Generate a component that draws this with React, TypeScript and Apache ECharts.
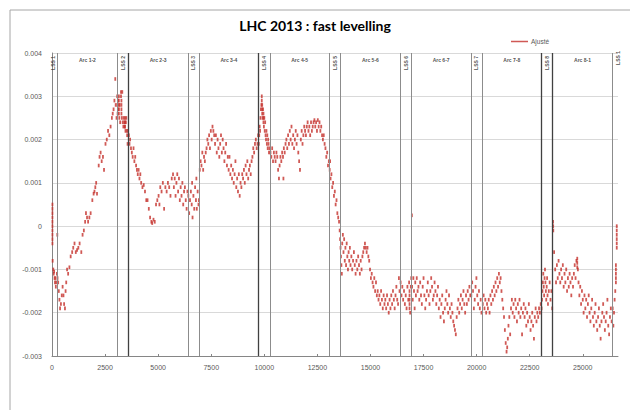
import React, { useEffect, useRef } from "react";
import * as echarts from "echarts";

// Positions along the ring (m) and vertical offsets (m)
const lss1Start = [[20,0.0005],[20,0.0004],[20,0.0003],[20,0.0002],[20,0.0001],[20,0],[20,-0.0001],[20,-0.0002],[20,-0.0003],[20,-0.0004],[30,-0.0008],[60,-0.001],[80,-0.0011],[100,-0.00105],[120,-0.0012],[140,-0.0013],[160,-0.0012],[180,-0.0014],[200,-0.0013],[230,-0.0011],[250,-0.0002],[260,-0.0012]];
const arc12 = [[290,-0.0013],[320,-0.0015],[350,-0.0017],[380,-0.0019],[420,-0.0018],[460,-0.0016],[500,-0.0014],[540,-0.0016],[570,-0.0018],[610,-0.0019],[640,-0.0015],[670,-0.0013],[710,-0.001],[760,-0.0011],[820,-0.00095],[880,-0.0007],[950,-0.0006],[1000,-0.0005],[1060,-0.0004],[1120,-0.0006],[1180,-0.00055],[1240,-0.0005],[1300,-0.0004],[1380,-0.0006],[1440,-0.0002],[1500,-0.0001],[1560,0.0001],[1600,0.0003],[1650,0.0002],[1700,0.0001],[1760,0.0002],[1820,0.0003],[1900,0.0006],[1960,0.00075],[2000,0.0008],[2040,0.0009],[2080,0.001],[2120,0.00075],[2200,0.0014],[2240,0.0016],[2290,0.0017],[2340,0.0015],[2400,0.0016],[2450,0.0013],[2520,0.0019],[2580,0.002],[2640,0.0022],[2700,0.0021],[2760,0.0023],[2820,0.0025],[2860,0.0026],[2900,0.0027],[2940,0.0029],[2980,0.0034],[3000,0.0028],[3040,0.0025]];
const lss2 = [[3070,0.003],[3080,0.0028],[3090,0.0026],[3110,0.0029],[3130,0.0027],[3150,0.003],[3150,0.0029],[3150,0.0028],[3150,0.0027],[3150,0.0026],[3170,0.0025],[3190,0.0028],[3210,0.0024],[3250,0.0031],[3250,0.003],[3270,0.0029],[3270,0.0028],[3270,0.0027],[3270,0.0026],[3290,0.0025],[3310,0.0031],[3330,0.0024],[3360,0.0023],[3380,0.0025],[3400,0.0024],[3420,0.0023],[3440,0.0025],[3440,0.0024],[3440,0.0023],[3460,0.0022],[3480,0.0024],[3500,0.0025],[3520,0.0022],[3540,0.0021],[3560,0.0019],[3580,0.0022]];
const arc23 = [[3620,0.0021],[3650,0.0019],[3680,0.002],[3720,0.0018],[3760,0.0017],[3800,0.0016],[3840,0.0018],[3880,0.0015],[3920,0.0016],[3960,0.0014],[4000,0.0013],[4040,0.0012],[4080,0.0013],[4120,0.0011],[4160,0.0012],[4200,0.001],[4260,0.0009],[4320,0.00095],[4380,0.0008],[4440,0.0006],[4500,0.0006],[4560,0.0004],[4620,0.0002],[4680,0.0001],[4720,0.00007],[4780,0.00015],[4840,0.0001],[4900,0.0005],[4960,0.0006],[5020,0.0007],[5060,0.0005],[5100,0.0009],[5160,0.0008],[5220,0.001],[5280,0.0004],[5340,0.0009],[5400,0.0008],[5460,0.001],[5520,0.0009],[5580,0.0007],[5640,0.0011],[5700,0.0012],[5740,0.0009],[5780,0.0011],[5820,0.0007],[5860,0.001],[5900,0.0012],[5940,0.0008],[5980,0.0011],[6020,0.0006],[6060,0.0009],[6100,0.0007],[6140,0.001],[6180,0.0005],[6220,0.0008],[6260,0.0009],[6300,0.0006],[6340,0.0004],[6380,0.0008]];
const lss3 = [[6420,0.0007],[6460,0.0003],[6500,0.0006],[6540,0.0008],[6580,0.0005],[6600,0.001],[6620,0.0002],[6660,0.0007],[6700,0.0004],[6740,0.0009],[6780,0.0006],[6800,0.0011],[6820,0.0004],[6860,0.0008],[6900,0.0005],[6920,0.0006]];
const arc34 = [[6960,0.0013],[7000,0.0015],[7040,0.0014],[7080,0.0017],[7120,0.0013],[7160,0.0016],[7200,0.0015],[7240,0.0017],[7280,0.0018],[7320,0.002],[7360,0.0019],[7400,0.0021],[7440,0.0018],[7480,0.0022],[7520,0.002],[7560,0.0023],[7600,0.0022],[7640,0.0021],[7680,0.0019],[7720,0.0021],[7760,0.0017],[7800,0.002],[7840,0.0018],[7880,0.0016],[7920,0.0019],[7960,0.0021],[8000,0.0017],[8040,0.002],[8080,0.0018],[8120,0.0015],[8160,0.0017],[8200,0.0019],[8240,0.0014],[8280,0.0016],[8320,0.0013],[8360,0.0016],[8400,0.0012],[8440,0.0014],[8480,0.0011],[8520,0.0013],[8560,0.001],[8600,0.0012],[8640,0.0015],[8680,0.0009],[8720,0.0011],[8760,0.0008],[8800,0.0012],[8840,0.0007],[8880,0.001],[8920,0.0009],[8960,0.0012],[9000,0.0011],[9040,0.0013],[9080,0.001],[9120,0.0014],[9160,0.0012],[9200,0.0015],[9240,0.0011],[9280,0.0013],[9320,0.0014],[9360,0.0012],[9400,0.0015],[9440,0.0016],[9480,0.0018],[9520,0.0017],[9560,0.0019],[9600,0.002],[9640,0.0018],[9680,0.0019],[9710,0.0021]];
const lss4 = [[9740,0.0019],[9760,0.0021],[9780,0.0023],[9800,0.0022],[9820,0.0025],[9840,0.0027],[9860,0.0028],[9880,0.003],[9880,0.0029],[9900,0.0028],[9900,0.0027],[9900,0.0026],[9920,0.0025],[9940,0.0027],[9960,0.0026],[9960,0.0025],[9960,0.0024],[9980,0.0023],[10000,0.0025],[10020,0.0022],[10040,0.0024],[10060,0.0021],[10080,0.002],[10100,0.0022],[10120,0.0019],[10140,0.0021],[10160,0.0018],[10180,0.002],[10200,0.0019],[10220,0.0017],[10240,0.0018]];
const arc45 = [[10290,0.0017],[10330,0.0016],[10370,0.0018],[10410,0.0015],[10450,0.0017],[10490,0.0016],[10530,0.0015],[10570,0.0017],[10610,0.0016],[10650,0.0013],[10690,0.0011],[10720,0.0014],[10760,0.0016],[10800,0.0015],[10840,0.0017],[10880,0.0016],[10900,0.0011],[10920,0.0018],[10960,0.0017],[11000,0.0019],[11040,0.002],[11080,0.0018],[11120,0.0021],[11160,0.0019],[11200,0.0022],[11240,0.002],[11280,0.0023],[11320,0.0019],[11360,0.0021],[11400,0.0018],[11440,0.002],[11480,0.0022],[11520,0.0019],[11560,0.0021],[11600,0.0017],[11640,0.0015],[11680,0.0013],[11720,0.002],[11760,0.0022],[11800,0.0019],[11840,0.0021],[11880,0.0023],[11920,0.0022],[11960,0.0021],[12000,0.0023],[12040,0.0024],[12080,0.0022],[12120,0.0023],[12160,0.0021],[12200,0.0024],[12240,0.0022],[12280,0.0023],[12320,0.0024],[12360,0.00245],[12400,0.0023],[12440,0.0024],[12480,0.0022],[12520,0.00245],[12560,0.0023],[12600,0.0024],[12640,0.0022],[12680,0.0023],[12720,0.0021],[12760,0.002],[12800,0.0021],[12840,0.0019],[12880,0.0018],[12920,0.0016],[12960,0.0017],[13000,0.0014],[13040,0.0015]];
const lss5 = [[13080,0.0013],[13100,0.0015],[13120,0.0011],[13160,0.0012],[13200,0.0009],[13240,0.001],[13280,0.0007],[13320,0.0008],[13360,0.0005],[13400,0.0006],[13440,0.0003],[13480,0.0002],[13520,0.0001],[13550,-0.0001],[13570,-0.0003],[13590,-0.0005]];
const arc56 = [[13610,-0.0007],[13630,-0.0009],[13650,-0.0011],[13670,-0.0004],[13700,-0.0002],[13730,-0.0006],[13760,-0.0003],[13790,-0.0008],[13820,-0.0005],[13850,-0.0009],[13880,-0.0004],[13910,-0.0007],[13940,-0.001],[13970,-0.0006],[14000,-0.0008],[14030,-0.0005],[14060,-0.0009],[14100,-0.0007],[14140,-0.001],[14180,-0.0008],[14220,-0.0006],[14260,-0.0009],[14300,-0.0011],[14340,-0.0008],[14380,-0.001],[14420,-0.0007],[14460,-0.0009],[14500,-0.0011],[14540,-0.0008],[14580,-0.001],[14620,-0.0007],[14660,-0.0006],[14700,-0.0005],[14740,-0.0004],[14780,-0.0005],[14820,-0.0006],[14860,-0.0005],[14900,-0.0007],[14940,-0.0008],[14980,-0.001],[15020,-0.0012],[15060,-0.0011],[15100,-0.0013],[15140,-0.0014],[15180,-0.0012],[15220,-0.0015],[15260,-0.0013],[15300,-0.0016],[15340,-0.0015],[15380,-0.0017],[15420,-0.0016],[15460,-0.0018],[15500,-0.0015],[15540,-0.0017],[15580,-0.0019],[15620,-0.0016],[15660,-0.0018],[15700,-0.0017],[15740,-0.0019],[15780,-0.0016],[15820,-0.0018],[15860,-0.002],[15900,-0.0017],[15940,-0.0019],[15980,-0.0016],[16020,-0.0018],[16060,-0.0015],[16100,-0.0017],[16140,-0.0019],[16180,-0.0016],[16220,-0.0014],[16260,-0.0017],[16300,-0.0018],[16340,-0.0012],[16370,-0.0015]];
const lss6 = [[16420,-0.0013],[16460,-0.0016],[16500,-0.0014],[16540,-0.0017],[16580,-0.0015],[16620,-0.0018],[16660,-0.0016],[16700,-0.0019],[16740,-0.0014],[16780,-0.0017],[16820,-0.0013],[16840,-0.0015],[16840,-0.0016],[16840,-0.0017],[16840,-0.0018],[16840,-0.0019],[16870,-0.002],[16900,-0.0014],[16920,-0.0012]];
const arc67 = [[16950,0.00025],[16960,-0.0014],[16990,-0.0017],[17020,-0.0012],[17050,-0.0015],[17080,-0.0019],[17110,-0.0013],[17140,-0.0016],[17180,-0.0012],[17220,-0.0015],[17260,-0.0014],[17300,-0.0017],[17340,-0.0013],[17380,-0.0016],[17420,-0.0018],[17460,-0.0014],[17500,-0.0012],[17540,-0.0016],[17580,-0.0019],[17620,-0.0017],[17660,-0.0015],[17700,-0.0013],[17740,-0.0016],[17780,-0.0018],[17820,-0.0015],[17860,-0.0012],[17900,-0.0014],[17940,-0.0017],[17980,-0.0016],[18020,-0.0013],[18060,-0.0015],[18100,-0.0018],[18140,-0.0016],[18180,-0.0014],[18220,-0.0019],[18260,-0.0017],[18300,-0.0021],[18340,-0.0018],[18380,-0.0016],[18420,-0.002],[18460,-0.0022],[18500,-0.0019],[18540,-0.0017],[18580,-0.0015],[18620,-0.0018],[18660,-0.002],[18700,-0.0016],[18740,-0.0019],[18780,-0.0021],[18820,-0.0018],[18860,-0.002],[18900,-0.0022],[18940,-0.0023],[18980,-0.0024],[19020,-0.0025],[19060,-0.0021],[19100,-0.0019],[19140,-0.0017],[19180,-0.002],[19220,-0.0018],[19260,-0.0016],[19300,-0.0019],[19340,-0.0017],[19380,-0.0015],[19420,-0.0018],[19460,-0.002],[19500,-0.0016],[19540,-0.0018],[19580,-0.0015],[19620,-0.0017],[19660,-0.0014],[19700,-0.0016]];
const lss7 = [[19750,-0.0016],[19790,-0.0013],[19830,-0.0015],[19870,-0.0019],[19910,-0.0017],[19950,-0.0014],[19990,-0.0012],[20030,-0.0016],[20070,-0.0018],[20110,-0.0015],[20150,-0.0019],[20190,-0.0017],[20230,-0.002]];
const arc78 = [[20290,-0.0018],[20330,-0.0016],[20370,-0.0019],[20410,-0.0017],[20450,-0.002],[20490,-0.0018],[20530,-0.0019],[20570,-0.0017],[20610,-0.002],[20650,-0.0016],[20690,-0.0018],[20730,-0.0015],[20770,-0.0017],[20810,-0.0014],[20850,-0.0016],[20890,-0.0013],[20930,-0.0015],[20970,-0.0012],[21010,-0.0014],[21050,-0.0011],[21090,-0.0013],[21130,-0.0012],[21170,-0.0015],[21210,-0.0017],[21250,-0.0019],[21290,-0.0021],[21330,-0.0024],[21370,-0.0027],[21410,-0.0029],[21440,-0.0028],[21470,-0.0026],[21500,-0.0023],[21540,-0.0021],[21580,-0.0025],[21620,-0.0019],[21660,-0.0017],[21700,-0.002],[21740,-0.0018],[21780,-0.0021],[21820,-0.0017],[21860,-0.0019],[21900,-0.0022],[21940,-0.0018],[21980,-0.002],[22020,-0.0017],[22060,-0.0021],[22100,-0.0019],[22140,-0.0025],[22180,-0.002],[22220,-0.0018],[22260,-0.0021],[22300,-0.0019],[22340,-0.0023],[22380,-0.002],[22420,-0.0022],[22460,-0.0018],[22500,-0.0021],[22540,-0.0024],[22580,-0.0022],[22620,-0.002],[22660,-0.0023],[22700,-0.0026],[22740,-0.0021],[22780,-0.0019],[22820,-0.0022],[22860,-0.002],[22900,-0.0021],[22940,-0.0019],[22980,-0.002],[23020,-0.0018]];
const lss8 = [[23060,-0.0019],[23080,-0.0017],[23100,-0.0015],[23120,-0.0013],[23140,-0.0011],[23160,-0.0014],[23180,-0.0016],[23200,-0.0012],[23220,-0.001],[23240,-0.0013],[23260,-0.0015],[23280,-0.0017],[23300,-0.0014],[23320,-0.0012],[23340,-0.0016],[23360,-0.0018],[23400,-0.0015],[23440,-0.0013],[23480,-0.0017],[23520,-0.0015],[23560,-0.0019]];
const arc81 = [[23600,0.0001],[23605,0],[23610,-0.0001],[23650,-0.0006],[23700,-0.001],[23740,-0.0013],[23780,-0.0009],[23820,-0.0012],[23860,-0.0008],[23900,-0.0011],[23940,-0.0013],[23980,-0.001],[24020,-0.0012],[24060,-0.0009],[24100,-0.0014],[24140,-0.0011],[24180,-0.0013],[24220,-0.001],[24260,-0.0015],[24300,-0.0012],[24340,-0.0014],[24380,-0.0011],[24420,-0.0013],[24460,-0.0016],[24500,-0.0012],[24540,-0.0014],[24580,-0.0011],[24620,-0.0009],[24660,-0.0012],[24700,-0.0008],[24740,-0.00075],[24740,-0.00085],[24740,-0.00095],[24770,-0.001],[24800,-0.0013],[24840,-0.0016],[24880,-0.0014],[24920,-0.0018],[24960,-0.0015],[25000,-0.0017],[25040,-0.002],[25080,-0.0016],[25120,-0.0019],[25160,-0.0017],[25200,-0.0021],[25240,-0.0018],[25280,-0.0016],[25320,-0.002],[25360,-0.0022],[25400,-0.0019],[25440,-0.0017],[25480,-0.0021],[25520,-0.0023],[25560,-0.002],[25600,-0.0018],[25640,-0.0022],[25680,-0.0024],[25720,-0.0021],[25760,-0.0019],[25800,-0.0023],[25840,-0.0026],[25880,-0.0022],[25920,-0.002],[25960,-0.0018],[26000,-0.0021],[26040,-0.0024],[26080,-0.0022],[26120,-0.002],[26160,-0.0017],[26200,-0.0023],[26240,-0.0025],[26280,-0.0021],[26320,-0.0019],[26360,-0.0022]];
const lss1End = [[26410,-0.0019],[26440,-0.0023],[26470,-0.002],[26500,-0.0017],[26530,-0.0015],[26560,-0.0013],[26560,-0.0012],[26560,-0.0011],[26560,-0.001],[26560,-0.0009],[26600,-0.0005],[26600,-0.0004],[26600,-0.0003],[26600,-0.0002],[26600,-0.0001],[26600,0]];

// LSS boundaries (m) and label positions
const boundaries = [269, 3063, 3601, 6395, 6933, 9728, 10266, 13060, 13598, 16392, 16930, 19725, 20263, 23046, 23584, 26390];
const darkBoundaries = [3601, 9728, 23046, 23584];
const lssNames = ["LSS 1", "LSS 2", "LSS 3", "LSS 4", "LSS 5", "LSS 6", "LSS 7", "LSS 8", "LSS 1"];
const lssCenters = [40, 3332, 6664, 9997, 13329, 16661, 19994, 23315, 26659];
const arcNames = ["Arc 1-2", "Arc 2-3", "Arc 3-4", "Arc 4-5", "Arc 5-6", "Arc 6-7", "Arc 7-8", "Arc 8-1"];
const arcCenters = [1666, 4998, 8330, 11663, 14995, 18327, 21655, 24987];
const ringLength = 26659;

const allPoints = [
  ...lss1Start, ...arc12, ...lss2, ...arc23, ...lss3, ...arc34, ...lss4, ...arc45,
  ...lss5, ...arc56, ...lss6, ...arc67, ...lss7, ...arc78, ...lss8, ...arc81, ...lss1End,
];

export default function App() {
  const ref = useRef<HTMLDivElement>(null);
  useEffect(() => {
    document.body.style.margin = "0";
    const chart = echarts.init(ref.current!, null, { renderer: "svg" });
    const font = "Liberation Sans";
    chart.setOption({
      animation: false,
      backgroundColor: "#ffffff",
      title: {
        text: "LHC 2013 : fast levelling",
        left: "center",
        top: 13,
        textStyle: { fontFamily: "Lato", fontWeight: "bold", fontSize: 14, color: "#000" },
      },
      legend: {
        data: [{ name: "Ajusté", icon: "rect" }],
        left: 506,
        top: 33,
        itemWidth: 17,
        itemHeight: 1.5,
        itemGap: 3,
        textStyle: { fontFamily: font, fontSize: 6.5, color: "#595959", padding: [0, 0, 0, -2] },
      },
      graphic: [
        {
          type: "rect",
          silent: true,
          z: -10,
          shape: { x: 10, y: 10, width: 640, height: 420 },
          style: { fill: "none", stroke: "#a6a6a6", lineWidth: 1 },
        },
      ],
      grid: { left: 52, right: 12, top: 53, bottom: 54 },
      xAxis: {
        type: "value",
        min: 0,
        max: ringLength,
        interval: 2500,
        axisLine: { show: true, onZero: false, lineStyle: { color: "#868686" } },
        axisTick: { show: true, inside: true, length: 2, lineStyle: { color: "#868686" } },
        axisLabel: {
          fontFamily: font,
          fontSize: 7,
          color: "#595959",
          margin: 8,
          showMaxLabel: false,
          formatter: (v: number) => String(Math.round(v)),
        },
        splitLine: { show: false },
      },
      yAxis: {
        type: "value",
        min: -0.003,
        max: 0.004,
        interval: 0.001,
        axisLine: { show: true, onZero: false, lineStyle: { color: "#868686" } },
        axisTick: { show: false },
        axisLabel: {
          fontFamily: font,
          fontSize: 7,
          color: "#595959",
          margin: 10,
          formatter: (v: number) => (Math.abs(v) < 1e-9 ? "0" : v.toFixed(3)),
        },
        splitLine: { show: true, lineStyle: { color: "#d9d9d9", width: 1 } },
      },
      series: [
        {
          name: "sections",
          type: "scatter",
          silent: true,
          symbolSize: 0,
          itemStyle: { color: "rgba(0,0,0,0)" },
          data: [
            ...lssNames.map((n, i) => ({
              name: n,
              value: [lssCenters[i], 0.00377],
              label: {
                show: true,
                formatter: "{b}",
                position: "inside",
                rotate: 90,
                offset: i === lssNames.length - 1 ? [5, 0] : [0, 0],
                fontFamily: font,
                fontSize: 5,
                fontWeight: "bold",
                color: "#222",
              },
            })),
            ...arcNames.map((n, i) => ({
              name: n,
              value: [arcCenters[i], 0.00384],
              label: {
                show: true,
                formatter: "{b}",
                position: "inside",
                fontFamily: font,
                fontSize: 5,
                fontWeight: "bold",
                color: "#222",
              },
            })),
          ],
          markLine: {
            silent: true,
            symbol: ["none", "none"],
            label: { show: false },
            animation: false,
            data: boundaries.map((b) => ({
              xAxis: b,
              lineStyle: {
                type: "solid",
                color: darkBoundaries.includes(b) ? "#404040" : "#8c8c8c",
                width: darkBoundaries.includes(b) ? 1.3 : 1,
              },
            })),
          },
        },
        {
          name: "Ajusté",
          type: "scatter",
          symbol: "rect",
          symbolSize: [1.8, 3.6],
          itemStyle: { color: "#c42f2a" },
          data: allPoints,
        },
      ],
    });
    return () => chart.dispose();
  }, []);
  return <div ref={ref} style={{ width: 630, height: 410 }} />;
}
